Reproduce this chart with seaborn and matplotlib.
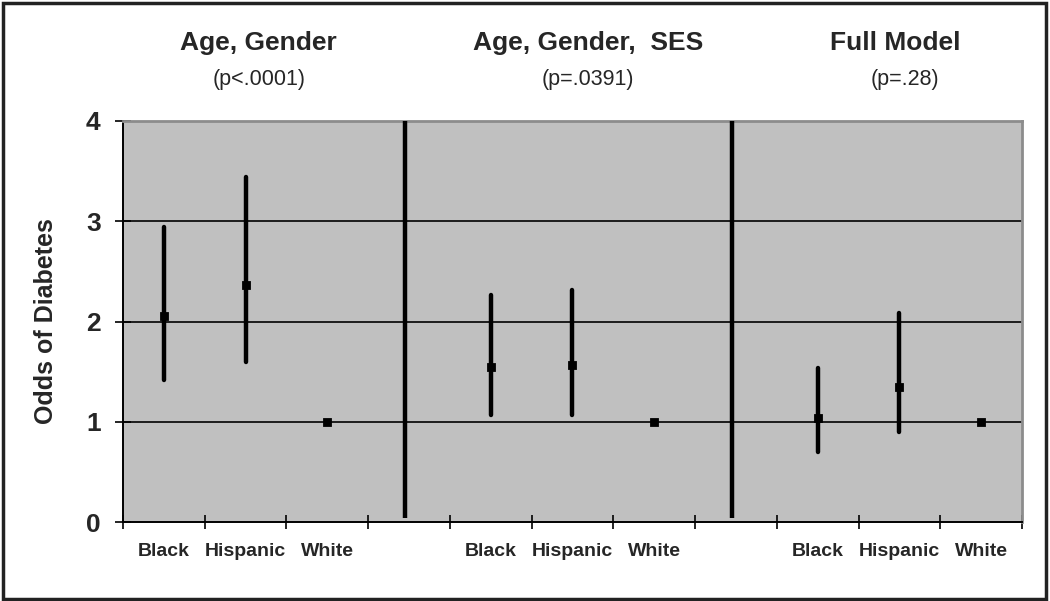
import numpy as np
import pandas as pd
import matplotlib.pyplot as plt
import seaborn as sns
from matplotlib.patches import Rectangle

# Model titles, p-values and the groups shown in each panel
models = ['Age, Gender', 'Age, Gender,  SES', 'Full Model']
p_values = ['(p<.0001)', '(p=.0391)', '(p=.28)']
groups = ['Black', 'Hispanic', 'White']

# Odds ratios with confidence limits
odds = [[2.05, 2.36, 1.0], [1.55, 1.57, 1.0], [1.04, 1.35, 1.0]]
ci_low = [[1.42, 1.60, 1.0], [1.07, 1.07, 1.0], [0.70, 0.90, 1.0]]
ci_high = [[2.94, 3.44, 1.0], [2.26, 2.31, 1.0], [1.54, 2.08, 1.0]]

# Vertical separator between the panels
divider_low = 0.04
divider_high = 4.0

# Build slot order: 3 groups per model, a separator slot between models
order, labels, rows = [], [], []
for m in range(len(models)):
    for g, name in enumerate(groups):
        key = f'm{m}-{name}'
        order.append(key)
        labels.append(name)
        for v in (ci_low[m][g], odds[m][g], ci_high[m][g]):
            rows.append({'slot': key, 'value': v})
    if m < len(models) - 1:
        order.append(f'sep{m}')
        labels.append('')
df = pd.DataFrame(rows)

sns.set_style("white")
plt.rcParams['font.family'] = ['Liberation Sans', 'DejaVu Sans']

fig = plt.figure(figsize=(10.5, 6.01), dpi=100)
ax = fig.add_axes([0.1171, 0.1314, 0.8562, 0.6673])
ax.set_facecolor('#C0C0C0')

# Horizontal reference lines
for level in [1, 2, 3]:
    ax.axhline(level, color='black', lw=1.2, zorder=1)

# median of (low, est, high) = est; full range = CI
sns.pointplot(data=df, x='slot', y='value', order=order,
              estimator='median', errorbar=('pi', 100),
              color='black', marker='s', markersize=5, linestyle='none',
              err_kws={'linewidth': 3.2}, ax=ax)

# Panel separators
sep_pos = [order.index(f'sep{m}') - 0.05 for m in range(len(models) - 1)]
ax.vlines(sep_pos, divider_low, divider_high, color='black', lw=3.2, zorder=3)

ax.set_xlim(-0.5, len(order) - 0.5)
ax.set_ylim(0, 4)
ax.set_yticks([0, 1, 2, 3, 4])
ax.set_yticklabels(['0', '1', '2', '3', '4'], fontsize=19, fontweight='bold')
ax.set_xticks(np.arange(-0.5, len(order), 1))
ax.set_xticklabels([])
ax.set_xticks(np.arange(len(order)), minor=True)
ax.set_xticklabels(labels, minor=True, fontsize=14, fontweight='bold')
ax.tick_params(axis='x', which='major', bottom=True, direction='inout', length=10,
               width=1.2, color='black')
ax.tick_params(axis='x', which='minor', bottom=True, length=0, pad=15)
ax.tick_params(axis='y', left=True, direction='inout', length=12, width=1.2,
               color='black', pad=10)
ax.set_xlabel('')
ax.set_ylabel('Odds of Diabetes', fontsize=18, fontweight='bold', labelpad=20)

for side in ['left', 'bottom']:
    ax.spines[side].set_color('black')
    ax.spines[side].set_linewidth(1.4)
for side in ['top', 'right']:
    ax.spines[side].set_color('#8C8C8C')
    ax.spines[side].set_linewidth(2)

# Panel titles
title_x = [258, 588, 895]
pval_x = [259, 588, 905]
for m in range(len(models)):
    fig.text(title_x[m] / 1050, 1 - 43 / 601, models[m], ha='center', va='center',
             fontsize=19, fontweight='bold')
    fig.text(pval_x[m] / 1050, 1 - 80 / 601, p_values[m], ha='center', va='center',
             fontsize=15.5)

# Outer frame
fig.patches.append(Rectangle((0.003, 0.004), 0.993, 0.991, transform=fig.transFigure,
                             fill=False, lw=2.5, ec='#222222'))

plt.savefig('out.png', dpi=100)
